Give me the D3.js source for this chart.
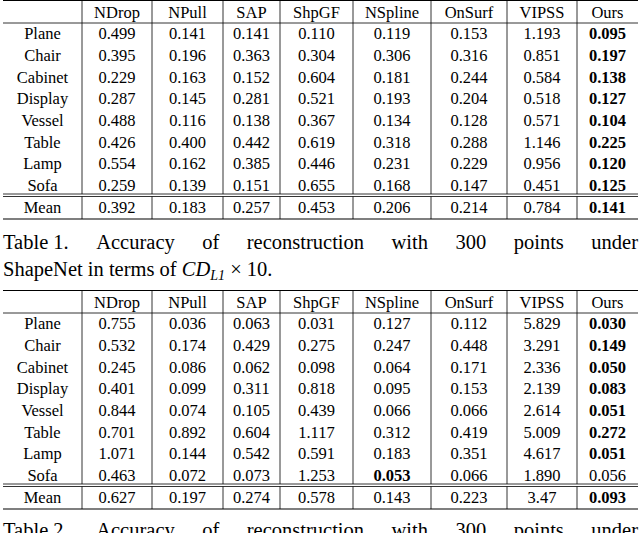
<!DOCTYPE html><html><head><meta charset="utf-8"><script src="https://cdn.jsdelivr.net/npm/d3@7"></script>
<style>body{margin:0;background:#fff}</style></head><body><svg id="c" width="640" height="533"></svg>
<script>
const methods=["NDrop","NPull","SAP","ShpGF","NSpline","OnSurf","VIPSS","Ours"];
const categories=["Plane","Chair","Cabinet","Display","Vessel","Table","Lamp","Sofa","Mean"];
const table1=[
["0.499","0.141","0.141","0.110","0.119","0.153","1.193","0.095"],
["0.395","0.196","0.363","0.304","0.306","0.316","0.851","0.197"],
["0.229","0.163","0.152","0.604","0.181","0.244","0.584","0.138"],
["0.287","0.145","0.281","0.521","0.193","0.204","0.518","0.127"],
["0.488","0.116","0.138","0.367","0.134","0.128","0.571","0.104"],
["0.426","0.400","0.442","0.619","0.318","0.288","1.146","0.225"],
["0.554","0.162","0.385","0.446","0.231","0.229","0.956","0.120"],
["0.259","0.139","0.151","0.655","0.168","0.147","0.451","0.125"],
["0.392","0.183","0.257","0.453","0.206","0.214","0.784","0.141"]];
const bold1=[[0,7],[1,7],[2,7],[3,7],[4,7],[5,7],[6,7],[7,7],[8,7]];
const table2=[
["0.755","0.036","0.063","0.031","0.127","0.112","5.829","0.030"],
["0.532","0.174","0.429","0.275","0.247","0.448","3.291","0.149"],
["0.245","0.086","0.062","0.098","0.064","0.171","2.336","0.050"],
["0.401","0.099","0.311","0.818","0.095","0.153","2.139","0.083"],
["0.844","0.074","0.105","0.439","0.066","0.066","2.614","0.051"],
["0.701","0.892","0.604","1.117","0.312","0.419","5.009","0.272"],
["1.071","0.144","0.542","0.591","0.183","0.351","4.617","0.051"],
["0.463","0.072","0.073","1.253","0.053","0.066","1.890","0.056"],
["0.627","0.197","0.274","0.578","0.143","0.223","3.47","0.093"]];
const bold2=[[0,7],[1,7],[2,7],[3,7],[4,7],[5,7],[6,7],[7,4],[8,7]];

const svg=d3.select("#c");
const edges=[3,82,152,223,280,353,431,507,577,638];
const font="Liberation Serif, Times New Roman, serif";
function drawTable(top,data,bold){
  const g=svg.append("g");
  const rowY=d3.scalePoint().domain(["H",...categories]).range([top+12,top+207]);
  const bottom=top+219;
  const cx=i=>(edges[i]+edges[i+1])/2;
  const hl=(y,w)=>g.append("line").attr("x1",3).attr("x2",638).attr("y1",y).attr("y2",y).attr("stroke","#000").attr("stroke-width",w);
  hl(top+0.5,1.2);hl(top+23,0.8);hl(top+194,0.8);hl(top+196.5,0.8);hl(bottom,1.2);
  edges.slice(1,-1).forEach(x=>{
    [[top,top+194],[top+196.5,bottom]].forEach(([a,b])=>g.append("line").attr("x1",x).attr("x2",x).attr("y1",a).attr("y2",b).attr("stroke","#000").attr("stroke-width",0.8));
  });
  const t=(x,y,s,b)=>g.append("text").attr("x",x).attr("y",y).attr("dy","0.35em").attr("text-anchor","middle")
    .attr("font-family",font).attr("font-size",16.5).attr("font-weight",b?"bold":"normal").text(s);
  methods.forEach((m,i)=>t(cx(i+1),rowY("H"),m));
  categories.forEach((c,r)=>{
    t(cx(0),rowY(c),c);
    data[r].forEach((v,i)=>t(cx(i+1),rowY(c),v,bold.some(([a,b])=>a===r&&b===i)));
  });
}
drawTable(0,table1,bold1);
drawTable(290,table2,bold2);
function caption(y,label){
  const words=[label,"Accuracy","of","reconstruction","with","300","points","under"];
  const g=svg.append("g");
  const nodes=words.map(w=>g.append("text").attr("y",y).attr("font-family",font).attr("font-size",20.5).text(w));
  const ws=nodes.map(n=>n.node().getComputedTextLength());
  const gap=(635-d3.sum(ws))/(words.length-1);
  let x=3;
  nodes.forEach((n,i)=>{n.attr("x",x);x+=ws[i]+gap;});
}
caption(249,"Table 1.");
const l2=svg.append("text").attr("x",3).attr("y",276).attr("font-family",font).attr("font-size",20.5);
l2.append("tspan").text("ShapeNet in terms of ");
l2.append("tspan").attr("font-style","italic").text("CD");
l2.append("tspan").attr("font-size",14).attr("font-style","italic").attr("dy",4).text("L1");
l2.append("tspan").attr("dy",-4).text(" × 10.");
caption(537,"Table 2.");
</script></body></html>
